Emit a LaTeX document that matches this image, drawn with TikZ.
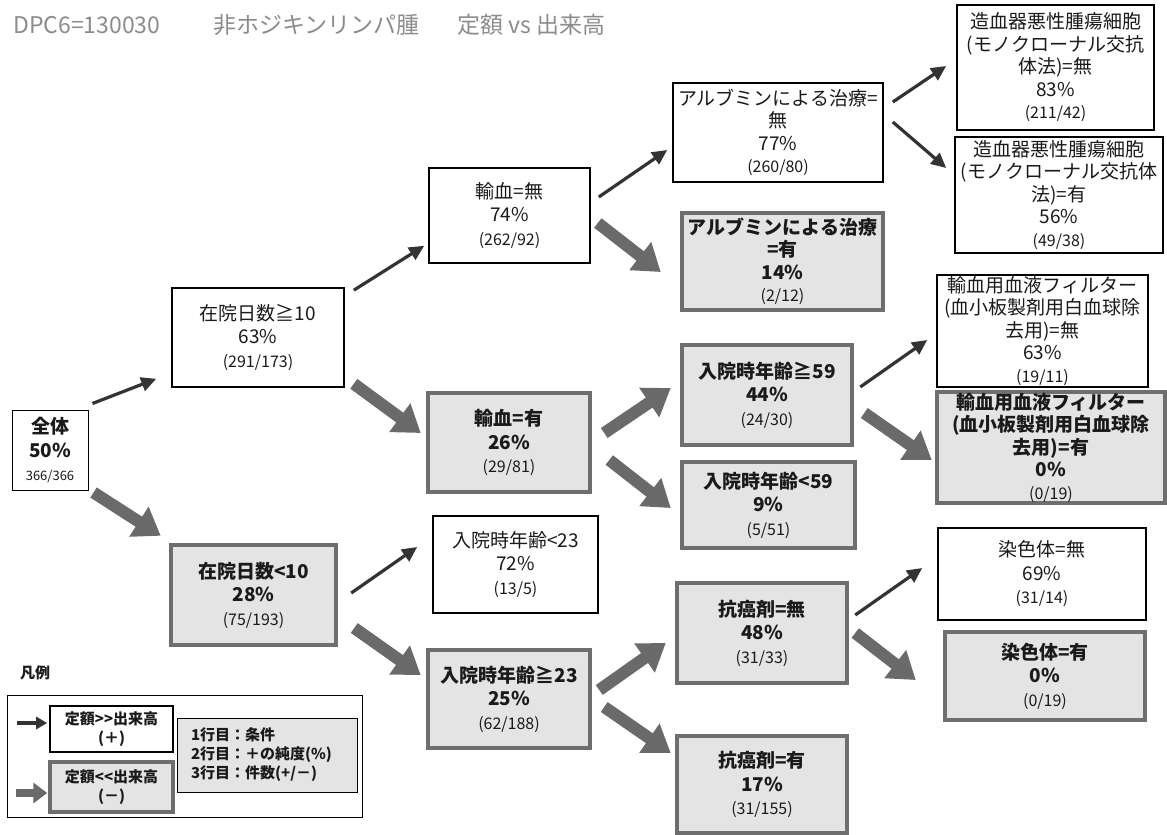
\documentclass[tikz,border=0pt]{standalone}
\usepackage{fontspec}
\setmainfont{Noto Sans CJK JP}
\usetikzlibrary{arrows.meta,calc}
\definecolor{txt}{HTML}{1A1A1A}
\definecolor{negfill}{HTML}{E4E4E4}
\definecolor{negborder}{HTML}{6E6E6E}
\definecolor{arrowneg}{HTML}{6A6A6A}
\definecolor{arrowpos}{HTML}{333333}
\definecolor{titlegray}{HTML}{8C8C8C}
\newcommand{\cnt}[1]{{\fontsize{16}{20}\selectfont\mdseries #1}}
\tikzset{
  base/.style={rectangle, align=center, inner sep=0pt, text=txt, font=\fontsize{19}{23.5}\selectfont},
  posbox/.style={base, draw=black, line width=1.6pt, fill=white},
  negbox/.style={base, draw=negborder, line width=4.5pt, fill=negfill, font=\fontsize{19}{23.5}\selectfont\bfseries},
  tight/.style={font=\fontsize{19}{22.5}\selectfont},
  tightb/.style={font=\fontsize{19}{22.5}\selectfont\bfseries},
  posarrow/.style={draw=arrowpos, line width=3.2pt, -{Triangle[length=15pt,width=14pt]}},
  negarrow/.style={draw=arrowneg, line width=12pt, -{Triangle[length=26pt,width=34pt]}},
  legtext/.style={font=\fontsize{15}{19}\selectfont\bfseries},
}
\begin{document}
\begin{tikzpicture}[x=1pt,y=-1pt]
\useasboundingbox (0,0) rectangle (1167,835);
\fill[white] (0,0) rectangle (1167,835);
% title
\node[anchor=west, inner sep=0, font=\fontsize{23}{28}\selectfont, text=titlegray] (ttl1) at (13,25) {DPC6=130030};
\node[anchor=west, inner sep=0, font=\fontsize{23}{28}\selectfont, text=titlegray] (ttl2) at (213,25) {非ホジキンリンパ腫};
\node[anchor=west, inner sep=0, font=\fontsize{23}{28}\selectfont, text=titlegray] (ttl3) at (457,25) {定額 vs 出来高};
% tree
\node[base, draw=black, line width=1pt, fill=white, font=\fontsize{19}{23.5}\selectfont\bfseries, minimum width=76pt, minimum height=80pt] (all) at (50,450) {全体\\50\%\\{\fontsize{13}{16}\selectfont\mdseries 366/366}};
\node[posbox, minimum width=172pt, minimum height=99pt] (d10) at (258,337.5) {在院日数≧10\\63\%\\\cnt{(291/173)}};
\node[negbox, minimum width=165pt, minimum height=100pt] (d10n) at (253.5,595) {在院日数<10\\28\%\\\cnt{(75/193)}};
\node[posbox, minimum width=161pt, minimum height=95pt] (t0) at (509.5,215.5) {輸血=無\\74\%\\\cnt{(262/92)}};
\node[negbox, minimum width=162pt, minimum height=99pt] (t1) at (509,442.5) {輸血=有\\26\%\\\cnt{(29/81)}};
\node[posbox, minimum width=165pt, minimum height=97pt] (a23) at (515.5,564.5) {入院時年齢<23\\72\%\\\cnt{(13/5)}};
\node[negbox, minimum width=162pt, minimum height=98pt] (a23p) at (509,699) {入院時年齢≧23\\25\%\\\cnt{(62/188)}};
\node[posbox, minimum width=210pt, minimum height=99pt, tight] (alb0) at (778,132.5) {アルブミンによる治療=\\無\\77\%\\\cnt{(260/80)}};
\node[negbox, minimum width=201pt, minimum height=97pt, tightb] (alb1) at (782.5,261.5) {アルブミンによる治療\\=有\\14\%\\\cnt{(2/12)}};
\node[negbox, minimum width=170pt, minimum height=100pt] (a59p) at (767,395) {入院時年齢≧59\\44\%\\\cnt{(24/30)}};
\node[negbox, minimum width=173pt, minimum height=86pt] (a59) at (768.5,505) {入院時年齢<59\\9\%\\\cnt{(5/51)}};
\node[negbox, minimum width=170pt, minimum height=100pt] (k0) at (762,633) {抗癌剤=無\\48\%\\\cnt{(31/33)}};
\node[negbox, minimum width=170pt, minimum height=97pt] (k1) at (762,784.5) {抗癌剤=有\\17\%\\\cnt{(31/155)}};
\node[posbox, minimum width=197pt, minimum height=125pt, tight] (z0) at (1055.5,67.5) {造血器悪性腫瘍細胞\\(モノクローナル交抗\\体法)=無\\83\%\\\cnt{(211/42)}};
\node[posbox, minimum width=208pt, minimum height=116pt, tight] (z1) at (1059,195) {造血器悪性腫瘍細胞\\(モノクローナル交抗体\\法)=有\\56\%\\\cnt{(49/38)}};
\node[posbox, minimum width=211pt, minimum height=112pt, tight] (f0) at (1042.5,331) {輸血用血液フィルター\\(血小板製剤用白血球除\\去用)=無\\63\%\\\cnt{(19/11)}};
\node[negbox, minimum width=228pt, minimum height=111pt, tightb] (f1) at (1051,447.5) {輸血用血液フィルター\\(血小板製剤用白血球除\\去用)=有\\0\%\\\cnt{(0/19)}};
\node[posbox, minimum width=208pt, minimum height=92pt] (c0) at (1042,574) {染色体=無\\69\%\\\cnt{(31/14)}};
\node[negbox, minimum width=200pt, minimum height=88pt] (c1) at (1045,676) {染色体=有\\0\%\\\cnt{(0/19)}};
% arrows
\draw[posarrow] ($(all.north east)+(4,-6)$) -- ($(d10.south west)+(-15,-9)$);
\draw[negarrow] ($(all.south east)+(5,2)$) -- ($(d10n.north west)+(-8,-7)$);
\draw[posarrow] ($(d10.north east)+(9,3)$) -- ($(t0.south west)+(-4,-18)$);
\draw[negarrow] ($(d10.south east)+(9,-4)$) -- ($(t1.west)+(-5,-9.5)$);
\draw[posarrow] ($(d10n.east)+(13,-2)$) -- ($(a23.west)+(-15,-17.5)$);
\draw[negarrow] ($(d10n.east)+(16,33)$) -- ($(a23p.west)+(-5,-24)$);
\draw[posarrow] ($(t0.east)+(8,-18.5)$) -- ($(alb0.west)+(-5,17.5)$);
\draw[negarrow] ($(t0.east)+(7,7.5)$) -- ($(alb1.west)+(-19,10.5)$);
\draw[negarrow] ($(t1.east)+(12,-9.5)$) -- ($(a59p.west)+(-9,-7)$);
\draw[negarrow] ($(t1.east)+(17,17.5)$) -- ($(a59.west)+(-9,3)$);
\draw[negarrow] ($(a23p.east)+(7,-9)$) -- ($(k0.west)+(-9,10)$);
\draw[negarrow] ($(a23p.east)+(12,8)$) -- ($(k1.west)+(-4,-31.5)$);
\draw[posarrow] ($(alb0.east)+(9,-30.5)$) -- ($(z0.west)+(-10,-1.5)$);
\draw[posarrow] ($(alb0.east)+(9,-10.5)$) -- ($(z1.west)+(-8,-27)$);
\draw[posarrow] ($(a59p.east)+(6,-8)$) -- ($(f0.west)+(-9,9)$);
\draw[negarrow] ($(a59p.east)+(10,18)$) -- ($(f1.west)+(-3,12.5)$);
\draw[posarrow] ($(k0.east)+(6,-18)$) -- ($(c0.west)+(-15,-6)$);
\draw[negarrow] ($(k0.east)+(6,0)$) -- ($(c1.west)+(-27,4)$);
% legend
\node[legtext, text=txt, inner sep=0] (lgl) at (35,673) {凡例};
\node[draw=black, line width=1pt, minimum width=355pt, minimum height=122pt, inner sep=0] (lgf) at (184.5,756) {};
\node[posbox, legtext, minimum width=123pt, minimum height=46pt] (lpos) at (111.5,729) {定額>\kern0pt>出来高\\(＋)};
\node[negbox, legtext, line width=3.5pt, minimum width=123pt, minimum height=50pt] (lneg) at (111.5,787) {定額<\kern0pt<出来高\\(－)};
\node[draw=black, line width=1pt, fill=negfill, align=left, legtext, text=txt, inner xsep=14pt, inner ysep=0pt, text width=152pt, minimum height=74pt] (linfo) at (267,755) {1行目：条件\\2行目：＋の純度(\%)\\3行目：件数(+/－)};
\draw[posarrow, line width=3.5pt, -{Triangle[length=11pt,width=12pt]}] ($(lpos.west)+(-32,-6)$) -- ($(lpos.west)+(-2,-6)$);
\draw[negarrow, line width=8pt, -{Triangle[length=14pt,width=20pt]}] ($(lneg.west)+(-32,6)$) -- ($(lneg.west)+(-1,6)$);
\end{tikzpicture}
\end{document}
